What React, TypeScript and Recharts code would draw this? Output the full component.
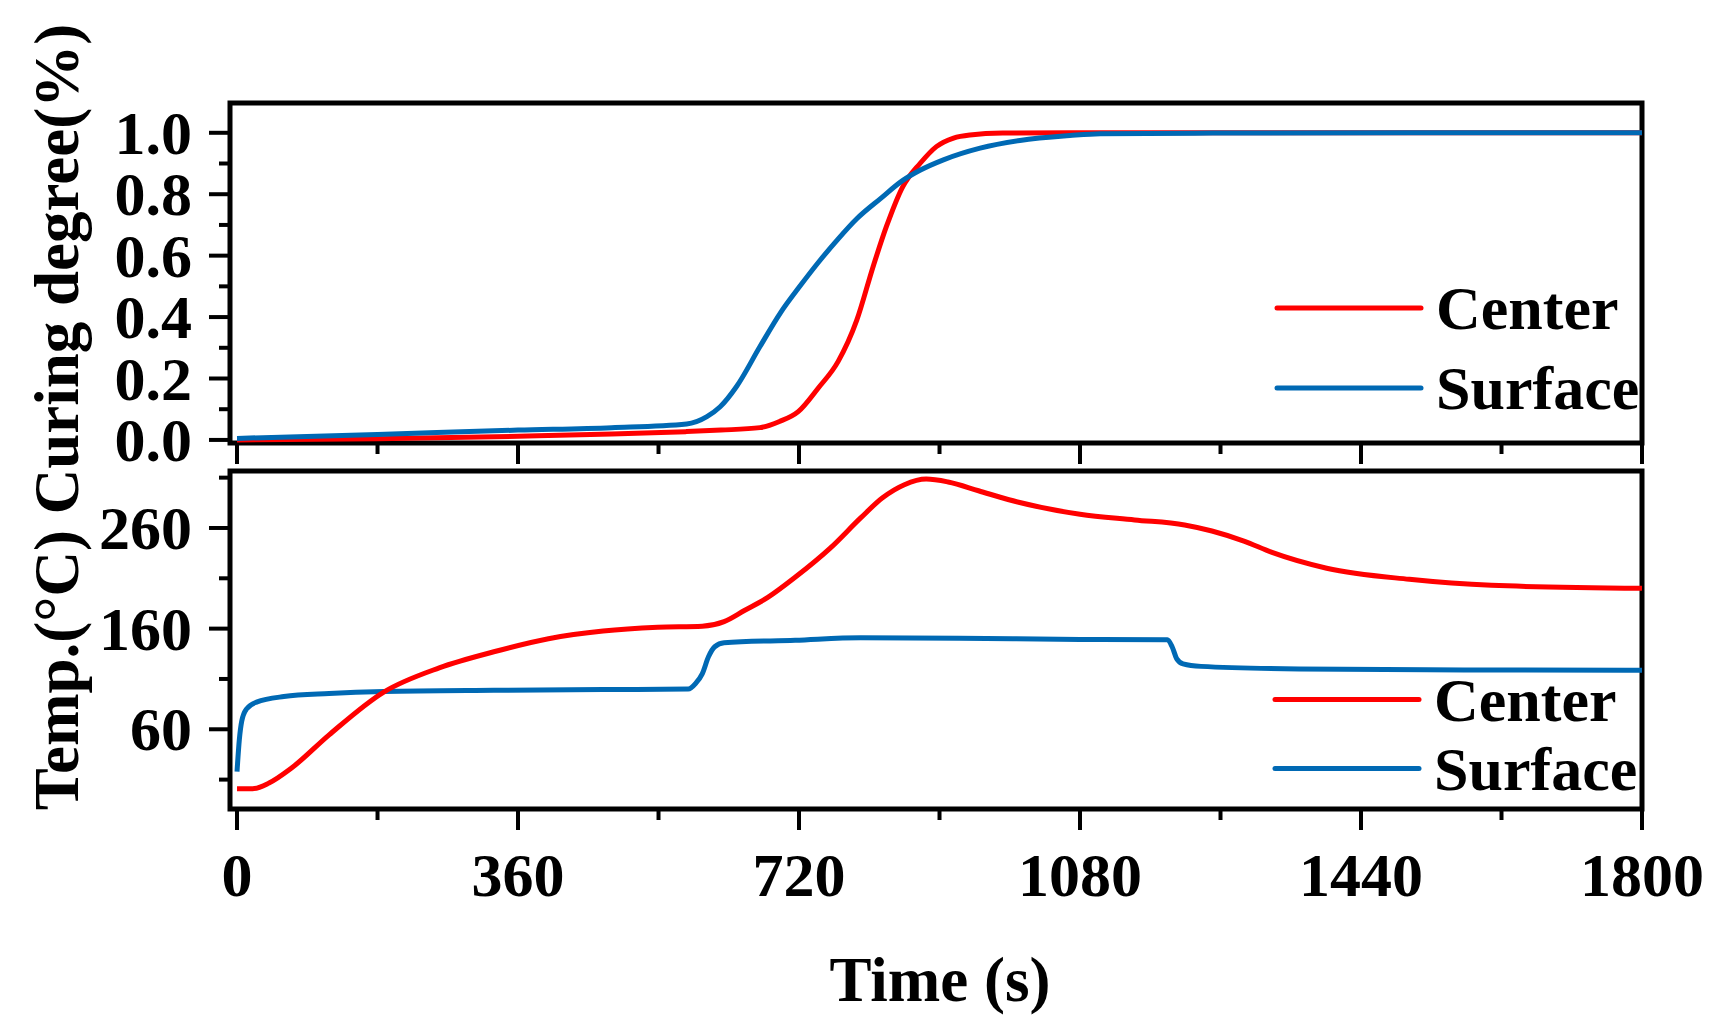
import React from "react";
import { LineChart, Line, XAxis, YAxis, ReferenceArea, Legend } from "recharts";

const FONT = '"Liberation Serif", "Times New Roman", serif';
const RED = "#FF0000";
const BLUE = "#0069B4";

// x axis (s)
const timeTicks = [0, 180, 360, 540, 720, 900, 1080, 1260, 1440, 1620, 1800];
const timeDomain = [-9, 1800];

// curing degree panel
const cureTicks = [0, 0.1, 0.2, 0.3, 0.4, 0.5, 0.6, 0.7, 0.8, 0.9, 1.0];
const cureDomain = [-0.01, 1.097];

const cureCenterT = [0, 180, 360, 480, 575, 620, 670, 695, 719, 745, 770, 794, 815, 832, 853, 875, 896, 918, 939, 981, 1080, 1400, 1800];
const cureCenterV = [0, 0.004, 0.012, 0.019, 0.027, 0.032, 0.04, 0.06, 0.092, 0.17, 0.255, 0.39, 0.565, 0.695, 0.825, 0.9, 0.955, 0.983, 0.993, 0.999, 1.0, 1.0, 1.0];

const cureSurfaceT = [0, 180, 360, 480, 576, 602, 619, 640, 670, 696, 721, 747, 768, 794, 824, 853, 875, 905, 952, 1003, 1067, 1106, 1250, 1500, 1800];
const cureSurfaceV = [0.005, 0.018, 0.032, 0.04, 0.052, 0.076, 0.108, 0.174, 0.304, 0.413, 0.5, 0.585, 0.648, 0.72, 0.785, 0.845, 0.878, 0.912, 0.95, 0.975, 0.991, 0.997, 0.999, 1.0, 1.0];

// temperature panel
const tempTicks = [10, 60, 110, 160, 210, 260, 310];
const tempDomain = [-19.2, 316.6];

const tempCenterT = [0, 20, 41, 69, 118, 188, 259, 329, 399, 469, 539, 596, 624, 650, 680, 715, 760, 799, 827, 855, 883, 911, 950, 989, 1080, 1150, 1214, 1249, 1290, 1326, 1396, 1502, 1607, 1800];
const tempCenterV = [1, 1, 6.6, 21, 54.5, 97, 121, 137, 150, 157.6, 161.3, 162.4, 167, 178, 191, 211, 240, 270, 290, 303, 308.6, 305.7, 297, 288, 273.6, 268, 263, 257, 247, 235.7, 220, 209, 203, 200];

const tempSurfaceT = [0, 3, 6, 12, 25, 60, 118, 188, 329, 469, 578, 588, 596, 604, 612, 624, 715, 799, 925, 1080, 1192, 1198, 1204, 1212, 1235, 1361, 1572, 1800];
const tempSurfaceV = [18, 50, 68, 80, 87, 92.5, 95.5, 97.5, 98.7, 99.4, 100, 106, 115, 132, 142, 146, 148.5, 151, 150.5, 149.2, 149, 142, 130, 125, 122.5, 120, 119, 118.6];

const zip = (ts: number[], vs: number[]) => ts.map((t, i) => ({ t, v: vs[i] }));

const textStyle = { fontFamily: FONT, fontWeight: 700, fontSize: 62, fill: "#000" };
const titleStyle = { ...textStyle, fontSize: 63 };

function XTick(props: any) {
  const { x, y, payload, showLabel } = props;
  const major = payload.value % 360 === 0;
  return (
    <g>
      <line x1={x} x2={x} y1={y} y2={y + (major ? 21 : 11)} stroke="#000" strokeWidth={4} />
      {showLabel && major && (
        <text x={x} y={y + 87} textAnchor="middle" style={textStyle}>
          {payload.value}
        </text>
      )}
    </g>
  );
}

function YTick(props: any) {
  const { x, y, payload, isMajor, format } = props;
  const major = isMajor(payload.value);
  return (
    <g>
      <line x1={x} x2={x - (major ? 21 : 11)} y1={y} y2={y} stroke="#000" strokeWidth={4} />
      {major && (
        <text x={x - 38} y={y + 21} textAnchor="end" style={textStyle}>
          {format(payload.value)}
        </text>
      )}
    </g>
  );
}

function LegendBox(props: any) {
  const { payload, gap } = props;
  return (
    <svg width={320} height={gap * 2} style={{ overflow: "visible", display: "block" }}>
      {(payload || []).map((p: any, i: number) => {
        const cy = gap / 2 + i * gap;
        return (
          <g key={p.value}>
            <line x1={15} x2={159} y1={cy} y2={cy} stroke={p.color} strokeWidth={5} strokeLinecap="round" />
            <text x={174} y={cy + 21} style={textStyle}>
              {p.value}
            </text>
          </g>
        );
      })}
    </svg>
  );
}

export default function App() {
  return (
    <div style={{ position: "absolute", left: 0, top: 0, width: 1719, height: 1030, background: "#fff" }}>
      <div style={{ position: "absolute", left: 0, top: 0 }}>
        <LineChart width={1719} height={480} margin={{ top: 103, right: 77, bottom: 0, left: 0 }}>
          <XAxis
            type="number"
            dataKey="t"
            domain={timeDomain}
            ticks={timeTicks}
            interval={0}
            height={37}
            axisLine={false}
            tickLine={false}
            tickSize={0}
            tickMargin={0}
            tick={(p: any) => <XTick {...p} showLabel={false} />}
          />
          <YAxis
            type="number"
            dataKey="v"
            domain={cureDomain}
            ticks={cureTicks}
            interval={0}
            width={230}
            axisLine={false}
            tickLine={false}
            tickSize={0}
            tickMargin={0}
            tick={(p: any) => (
              <YTick {...p} isMajor={(v: number) => Math.round(v * 10) % 2 === 0} format={(v: number) => v.toFixed(1)} />
            )}
          />
          <Line data={zip(cureCenterT, cureCenterV)} dataKey="v" name="Center" type="monotone" stroke={RED} strokeWidth={5} dot={false} activeDot={false} isAnimationActive={false} />
          <Line data={zip(cureSurfaceT, cureSurfaceV)} dataKey="v" name="Surface" type="monotone" stroke={BLUE} strokeWidth={5} dot={false} activeDot={false} isAnimationActive={false} />
          <ReferenceArea x1={timeDomain[0]} x2={timeDomain[1]} y1={cureDomain[0]} y2={cureDomain[1]} fill="none" fillOpacity={0} stroke="#000" strokeWidth={5} />
          <Legend
            layout="horizontal"
            align="center"
            verticalAlign="middle"
            wrapperStyle={{ left: 1262, top: 268, width: 320 }}
            content={(p: any) => <LegendBox {...p} gap={80} />}
          />
        </LineChart>
      </div>
      <div style={{ position: "absolute", left: 0, top: 450 }}>
        <LineChart width={1719} height={580} margin={{ top: 21, right: 77, bottom: 0, left: 0 }}>
          <XAxis
            type="number"
            dataKey="t"
            domain={timeDomain}
            ticks={timeTicks}
            interval={0}
            height={221}
            axisLine={false}
            tickLine={false}
            tickSize={0}
            tickMargin={0}
            tick={(p: any) => <XTick {...p} showLabel />}
          />
          <YAxis
            type="number"
            dataKey="v"
            domain={tempDomain}
            ticks={tempTicks}
            interval={0}
            width={230}
            axisLine={false}
            tickLine={false}
            tickSize={0}
            tickMargin={0}
            tick={(p: any) => <YTick {...p} isMajor={(v: number) => (v - 60) % 100 === 0} format={(v: number) => String(v)} />}
          />
          <Line data={zip(tempSurfaceT, tempSurfaceV)} dataKey="v" name="Surface" type="monotone" stroke={BLUE} strokeWidth={5} dot={false} activeDot={false} isAnimationActive={false} />
          <Line data={zip(tempCenterT, tempCenterV)} dataKey="v" name="Center" type="monotone" stroke={RED} strokeWidth={5} dot={false} activeDot={false} isAnimationActive={false} />
          <ReferenceArea x1={timeDomain[0]} x2={timeDomain[1]} y1={tempDomain[0]} y2={tempDomain[1]} fill="none" fillOpacity={0} stroke="#000" strokeWidth={5} />
          <Legend
            layout="horizontal"
            align="center"
            verticalAlign="middle"
            wrapperStyle={{ left: 1260, top: 215, width: 320 }}
            content={(p: any) => (
              <LegendBox {...p} gap={69} payload={[...(p.payload || [])].sort((a: any) => (a.value === "Center" ? -1 : 1))} />
            )}
          />
        </LineChart>
      </div>
      <svg width={1719} height={1030} style={{ position: "absolute", left: 0, top: 0, pointerEvents: "none" }}>
        <text transform="translate(78,417) rotate(-90)" textAnchor="middle" style={titleStyle}>
          Temp.(°C) Curing degree(%)
        </text>
        <text x={940} y={1001} textAnchor="middle" style={titleStyle}>
          Time (s)
        </text>
      </svg>
    </div>
  );
}
